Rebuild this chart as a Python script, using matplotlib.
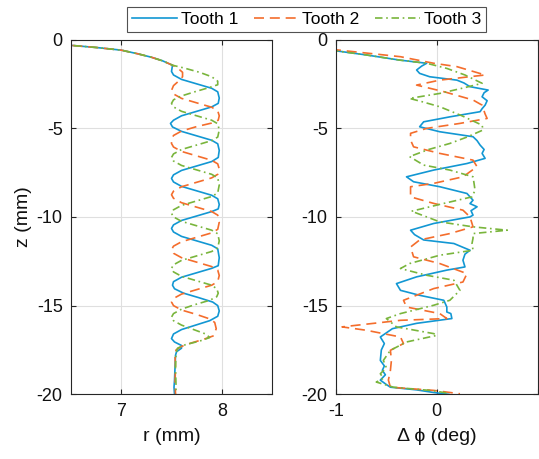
import matplotlib
matplotlib.use("Agg")
import matplotlib.pyplot as plt
from matplotlib.lines import Line2D

# ---------------- data ----------------
series_names = ["Tooth 1", "Tooth 2", "Tooth 3"]

# left panel: r (mm) versus z (mm)
r_z1 = [-0.2, -0.33, -0.45, -0.6, -0.8, -1.0, -1.2, -1.45, -1.8, -2.0, -2.25, -2.5, -2.75, -2.95,
        -3.3, -3.6, -3.8, -4.05, -4.3, -4.55, -4.73, -4.93, -5.18, -5.43, -5.68, -5.88, -6.25,
        -6.65, -6.88, -7.13, -7.38, -7.63, -7.83, -8.03, -8.28, -8.53, -8.78, -8.98, -9.3, -9.55,
        -9.7, -9.95, -10.2, -10.45, -10.65, -10.85, -11.1, -11.35, -11.6, -11.8, -12.3, -12.75,
        -12.9, -13.15, -13.4, -13.65, -13.85, -14.05, -14.3, -14.55, -14.8, -15.0, -15.3, -15.6,
        -15.85, -16.1, -16.35, -16.6, -16.86, -17.05, -17.25, -17.4, -17.6, -17.8, -18.5, -19.2,
        -19.6, -20.0]
r_v1 = [6.2, 6.5, 6.75, 7.0, 7.16, 7.3, 7.41, 7.51, 7.50, 7.52, 7.60, 7.75, 7.90, 7.96,
        7.975, 7.965, 7.90, 7.75, 7.60, 7.52, 7.49, 7.51, 7.60, 7.75, 7.90, 7.96, 7.975,
        7.965, 7.90, 7.75, 7.60, 7.52, 7.50, 7.52, 7.60, 7.75, 7.90, 7.96, 7.975, 7.965,
        7.90, 7.75, 7.60, 7.52, 7.50, 7.52, 7.60, 7.75, 7.90, 7.96, 7.975, 7.965,
        7.90, 7.75, 7.60, 7.52, 7.51, 7.53, 7.62, 7.77, 7.91, 7.96, 7.975, 7.96,
        7.88, 7.74, 7.60, 7.52, 7.50, 7.53, 7.60, 7.60, 7.55, 7.54, 7.535, 7.53,
        7.525, 7.53]

r_z2 = [-0.2, -0.33, -0.45, -0.6, -0.8, -1.0, -1.2, -1.45, -1.6, -1.85, -2.1, -2.35, -2.6, -2.87,
        -3.07, -3.32, -3.57, -3.82, -4.02, -4.3, -4.55, -4.71, -4.91, -5.16, -5.41, -5.66, -5.86,
        -6.06, -6.31, -6.56, -6.81, -7.01, -7.3, -7.6, -7.8, -8.05, -8.3, -8.55, -8.75,
        -8.95, -9.2, -9.45, -9.7, -9.9, -10.3, -10.7, -10.9, -11.15, -11.4, -11.65, -11.85,
        -12.05, -12.3, -12.55, -12.8, -13.0, -13.3, -13.65, -13.85, -14.1, -14.35, -14.6, -14.8,
        -15.0, -15.25, -15.5, -15.75, -15.95, -16.3, -16.7, -16.9, -17.1, -17.3, -17.5, -17.8,
        -18.5, -19.3, -20.0]
r_v2 = [6.2, 6.5, 6.75, 7.0, 7.16, 7.3, 7.41, 7.51, 7.56, 7.61, 7.61, 7.57, 7.52, 7.50,
        7.52, 7.60, 7.75, 7.90, 7.96, 7.975, 7.965, 7.90, 7.75, 7.60, 7.52, 7.50, 7.50,
        7.52, 7.60, 7.75, 7.90, 7.96, 7.975, 7.96, 7.90, 7.75, 7.60, 7.52, 7.50,
        7.52, 7.60, 7.75, 7.90, 7.96, 7.975, 7.96, 7.90, 7.75, 7.60, 7.52, 7.50,
        7.52, 7.60, 7.75, 7.90, 7.96, 7.975, 7.96, 7.90, 7.75, 7.60, 7.52, 7.50,
        7.52, 7.60, 7.75, 7.88, 7.93, 7.945, 7.92, 7.82, 7.70, 7.60, 7.545, 7.535,
        7.54, 7.535, 7.54]

r_z3 = [-0.2, -0.33, -0.45, -0.6, -0.8, -1.0, -1.2, -1.45, -1.6, -1.85, -2.1, -2.35, -2.55, -2.7,
        -2.95, -3.2, -3.4, -3.6, -3.8, -4.05, -4.3, -4.55, -4.75, -5.1, -5.5, -5.7, -5.95, -6.2,
        -6.45, -6.65, -6.85, -7.1, -7.35, -7.6, -7.8, -8.2, -8.65, -8.85, -9.1, -9.35, -9.6, -9.8,
        -10.0, -10.25, -10.5, -10.75, -10.95, -11.35, -11.75, -11.95, -12.2, -12.45, -12.7, -12.9,
        -13.1, -13.35, -13.6, -13.85, -14.05, -14.3, -14.5, -14.7, -14.95, -15.2, -15.45, -15.65,
        -15.85, -16.1, -16.35, -16.6, -16.8, -17.0, -17.2, -17.4, -17.7, -18.5, -19.5, -20.0]
r_v3 = [6.2, 6.5, 6.75, 7.0, 7.16, 7.3, 7.41, 7.51, 7.62, 7.78, 7.90, 7.96, 7.96, 7.88,
        7.73, 7.59, 7.52, 7.50, 7.52, 7.60, 7.75, 7.90, 7.96, 7.975, 7.96, 7.90, 7.75, 7.60,
        7.52, 7.50, 7.52, 7.60, 7.75, 7.90, 7.96, 7.975, 7.96, 7.90, 7.75, 7.60, 7.52, 7.50,
        7.52, 7.60, 7.75, 7.90, 7.96, 7.975, 7.96, 7.90, 7.75, 7.60, 7.52, 7.50,
        7.52, 7.60, 7.75, 7.90, 7.95, 7.965, 7.95, 7.88, 7.73, 7.60, 7.52, 7.50,
        7.52, 7.60, 7.72, 7.84, 7.88, 7.78, 7.64, 7.56, 7.545, 7.54, 7.545, 7.545]

# right panel: delta phi (deg) versus z (mm)
p_z1 = [-0.6, -0.87, -1.16, -1.34, -1.5, -1.72, -1.91, -2.1, -2.29, -2.45, -2.66, -2.85, -3.0,
        -3.23, -3.45, -3.7, -3.9, -4.07, -4.36, -4.64, -4.92, -5.2, -5.48, -5.7, -5.95, -6.2,
        -6.42, -6.7, -6.99, -7.36, -7.74, -8.02, -8.3, -8.68, -9.06, -9.25, -9.43, -9.65, -9.9,
        -10.0, -10.37, -10.75, -11.0, -11.3, -11.5, -11.88, -12.1, -12.44, -12.82, -13.0, -13.38,
        -13.76, -14.14, -14.42, -14.7, -15.08, -15.36, -15.45, -15.73, -16.0, -16.3, -16.77,
        -17.14, -17.5, -18.09, -18.4, -18.65, -18.9, -19.2, -19.45, -19.6, -19.75, -19.9, -20.0]
p_v1 = [-1.05, -0.70, -0.37, -0.10, -0.15, -0.20, -0.17, -0.07, 0.20, 0.27, 0.33, 0.51, 0.47,
        0.45, 0.50, 0.48, 0.45, 0.43, 0.13, -0.13, -0.17, 0.03, 0.36, 0.40, 0.43, 0.47,
        0.45, 0.48, 0.30, -0.03, -0.30, -0.23, 0.03, 0.30, 0.36, 0.33, 0.40, 0.34, 0.36,
        0.33, -0.03, -0.26, -0.22, -0.13, 0.17, 0.33, 0.28, 0.26, 0.28, 0.10, -0.20,
        -0.40, -0.36, -0.17, 0.07, 0.10, 0.10, 0.14, 0.15, -0.20, -0.44, -0.56,
        -0.52, -0.55, -0.56, -0.52, -0.54, -0.51, -0.56, -0.50, -0.46, -0.20, -0.03, 0.12]

p_z2 = [-0.55, -0.97, -1.34, -1.53, -2.0, -2.29, -2.57, -2.94, -3.41, -3.7, -4.2, -4.45, -4.73,
        -5.01, -5.29, -5.67, -6.05, -6.42, -6.8, -7.17, -7.74, -8.11, -8.3, -8.87, -9.24, -9.62,
        -10.0, -10.56, -10.94, -11.3, -11.7, -12.25, -12.63, -13.2, -13.67, -14.04, -14.7, -15.08,
        -15.45, -15.73, -15.83, -16.2, -16.39, -16.77, -17.14, -17.52, -18.09, -18.65, -19.2,
        -19.6, -19.78, -19.97]
p_v2 = [-1.05, -0.36, -0.03, 0.20, 0.48, 0.03, -0.20, 0.07, 0.36, 0.45, 0.48, 0.50, 0.23,
        -0.10, -0.26, -0.26, -0.23, 0.03, 0.36, 0.40, 0.26, -0.03, -0.26, -0.26, -0.03, 0.26,
        0.33, 0.36, 0.13, -0.17, -0.26, -0.23, 0.03, 0.30, 0.26, -0.03, -0.33, -0.30,
        0.03, 0.10, -0.36, -0.94, -0.70, -0.36, -0.33, -0.46, -0.45, -0.46, -0.48,
        -0.46, -0.03, 0.23]

p_z3 = [-0.6, -0.87, -1.16, -1.34, -1.63, -2.0, -2.47, -2.75, -3.04, -3.32, -3.5, -3.79, -4.3,
        -4.83, -5.1, -5.5, -5.86, -6.2, -6.6, -7.08, -7.36, -7.74, -8.1, -8.5, -8.87, -9.24,
        -9.68, -10.0, -10.28, -10.56, -10.75, -10.94, -11.2, -11.5, -11.88, -12.16, -12.63,
        -12.91, -13.29, -13.57, -13.85, -14.14, -14.7, -14.98, -15.45, -15.73, -16.2, -16.58,
        -16.68, -17.05, -17.52, -18.09, -18.5, -18.84, -19.1, -19.31, -19.6, -19.8, -19.93]
p_v3 = [-1.05, -0.70, -0.37, -0.10, 0.10, 0.28, 0.45, 0.25, 0.03, -0.27, -0.15, 0.03, 0.25,
        0.45, 0.46, 0.30, 0.13, -0.08, -0.27, -0.13, 0.13, 0.36, 0.37, 0.38, 0.35, 0.07,
        -0.25, -0.10, 0.03, 0.36, 0.70, 0.36, 0.36, 0.35, 0.36, 0.03, -0.27,
        -0.36, -0.10, 0.17, 0.20, 0.23, 0.13, -0.03, -0.36, -0.50, -0.40, -0.03,
        0.0, -0.30, -0.46, -0.53, -0.50, -0.56, -0.53, -0.60, -0.43, -0.03, 0.10]

yticks = [0, -5, -10, -15, -20]
r_ticks = [7, 8]
p_ticks = [-1, 0]

# ---------------- style ----------------
colors = ["#1297D3", "#F46D2C", "#79B53C"]
styles = ["-", (0, (6, 3.5)), (0, (4.5, 2.2, 1.0, 2.2))]
FONT = ["Liberation Sans", "DejaVu Sans"]
plt.rcParams["font.family"] = FONT
axcol = "#262626"

W, H = 539, 459
fig = plt.figure(figsize=(W / 100, H / 100), dpi=100)

def frac_box(x0, x1, ytop, ybot):
    return [x0 / W, 1 - ybot / H, (x1 - x0) / W, (ybot - ytop) / H]

ax1 = fig.add_axes(frac_box(71, 272, 39.5, 394.3))
ax2 = fig.add_axes(frac_box(336, 537.5, 39.5, 394.3))

left = [(r_z1, r_v1), (r_z2, r_v2), (r_z3, r_v3)]
right = [(p_z1, p_v1), (p_z2, p_v2), (p_z3, p_v3)]

for (z, v), c, ls in zip(left, colors, styles):
    ax1.plot(v, z, color=c, linestyle=ls, linewidth=1.2)
for (z, v), c, ls in zip(right, colors, styles):
    ax2.plot(v, z, color=c, linestyle=ls, linewidth=1.2)

for ax in (ax1, ax2):
    ax.set_ylim(-20, 0)
    ax.set_yticks(yticks)
    ax.set_yticklabels([str(t) for t in yticks])
    ax.grid(True, color="#DFDFDF", linewidth=0.8)
    ax.set_axisbelow(True)
    for s in ax.spines.values():
        s.set_color(axcol)
        s.set_linewidth(0.8)
    ax.tick_params(direction="in", length=3.5, width=0.8, color=axcol,
                   labelsize=13, labelcolor="#111111", top=True, right=True, pad=6)

ax1.set_xlim(6.5, 8.5)
ax1.set_xticks(r_ticks)
ax1.set_xticklabels([str(t) for t in r_ticks])
ax2.set_xlim(-1, 1)
ax2.set_xticks(p_ticks + [1])
ax2.set_xticklabels(["-1", "0", ""])

ax1.set_xlabel("r (mm)", fontsize=14, color="#111111", labelpad=6)
ax1.set_ylabel("z (mm)", fontsize=14, color="#111111", labelpad=3)
ax2.set_xlabel("Δ ϕ (deg)", fontsize=14, color="#111111", labelpad=6)

handles = [Line2D([0], [0], color=c, linestyle=ls, linewidth=1.2) for c, ls in zip(colors, styles)]
leg = fig.legend(handles, series_names, loc="center", bbox_to_anchor=(306.5 / W, 1 - 19.5 / H),
                 ncol=3, fontsize=12.5, frameon=True, fancybox=False, handlelength=2.6,
                 handletextpad=0.2, columnspacing=0.9, borderpad=0.3, borderaxespad=0)
leg.get_frame().set_edgecolor(axcol)
leg.get_frame().set_linewidth(0.8)

fig.savefig("out.png", dpi=100)
